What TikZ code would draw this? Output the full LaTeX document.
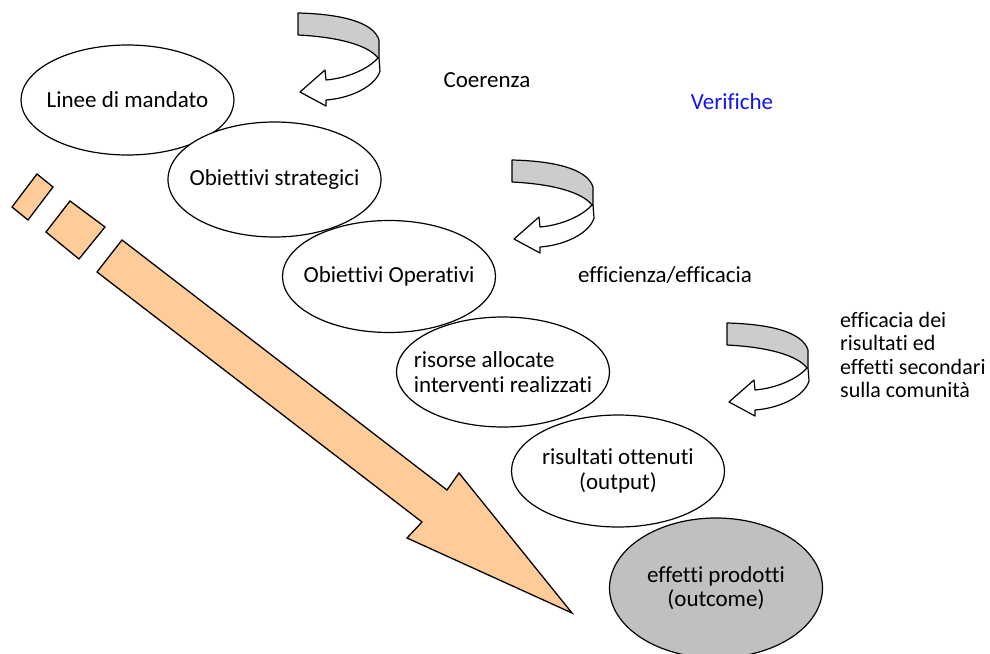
\documentclass[tikz,border=0pt]{standalone}
\usepackage{fontspec}
\setmainfont{Carlito}[Ligatures=NoCommon]
\usepackage{tikz}
\usetikzlibrary{shapes.geometric}
\definecolor{peach}{RGB}{255,204,153}
\definecolor{bandgray}{RGB}{204,204,204}
\definecolor{outgray}{RGB}{192,192,192}
\definecolor{verblue}{RGB}{20,20,240}

\begin{document}
\begin{tikzpicture}[
			x=1pt, y=-1pt,
			font=\fontsize{23}{24.5}\selectfont,
			ellip/.style={
				ellipse,
				draw=black,
				line width=1.2pt,
				fill=white,
				align=center,
				inner xsep=-15pt,
				inner ysep=0pt,
				minimum width=213pt,
				minimum height=112pt
			},
			txt/.style={
				inner sep=0pt,
				align=left
			},
			pics/turnarrow/.style={
				code={
					% lower white part with the head
					\draw [line width=1.2pt, line join=round, fill=white]
						(80,45) .. controls (70,56) and (50,65) .. (28,67)
						-- (27,57) -- (2,79) -- (28,93) -- (28,87)
						.. controls (55,85) and (78,72) .. (82,58)
						-- (81,45) -- cycle;
					% upper grey band
					\draw [line width=1.2pt, line join=round, fill=bandgray]
						(0,0) .. controls (40,1) and (75,8) .. (81,27)
						-- (81,45) -- (80,45)
						.. controls (70,32) and (40,24) .. (0,22) -- cycle;
				}
			}
			]
			\useasboundingbox (0,0) rectangle (990,653);
			
			% the big arrow
			\draw [line width=1.3pt, fill=peach] (37,174) -- (53,187) -- (28,220) -- (12,207) -- cycle;
			\draw [line width=1.3pt, fill=peach] (70,201) -- (105,227) -- (79,259) -- (46,232) -- cycle;
			\draw [line width=1.3pt, line join=miter, fill=peach] (122,240) -- (447,490) -- (459,473)
				-- (572,613) -- (407,538) -- (422,522) -- (97,272) -- cycle;
			
			% We start by placing the steps
			\node [ellip, minimum height=110pt] (linee) at (127.5,100) {Linee di mandato};
			\node [ellip, minimum height=115pt] (strat) at (274.5,179.5) {Obiettivi strategici};
			\node [ellip] (operat) at (389,276.5) {Obiettivi Operativi};
			\node [ellip, align=left, minimum height=110pt] (risorse) at (503,372) {risorse allocate\\interventi realizzati};
			\node [ellip] (risult) at (618,471) {risultati ottenuti\\(output)};
			\node [ellip, fill=outgray, minimum height=140pt] (effetti) at (716,588) {effetti prodotti\\(outcome)};
			
			% the turning arrows
			\pic at (298,13) {turnarrow};
			\pic at (512,160) {turnarrow};
			\pic at (727,323) {turnarrow};
			
			% texts
			\node [txt] (coer) at (487,80) {Coerenza};
			\node [txt, text=verblue] (verif) at (732,102) {Verifiche};
			\node [txt] (effic) at (665,275) {efficienza/efficacia};
			\node [txt, anchor=west, font=\fontsize{22}{23.5}\selectfont] (effsec) at (840,355) {efficacia dei\\risultati ed\\effetti secondari\\sulla comunità};
			
\end{tikzpicture}
\end{document}
